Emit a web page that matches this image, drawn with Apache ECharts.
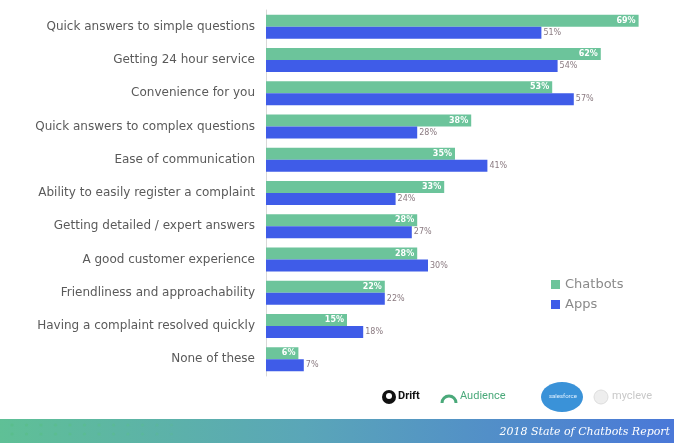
<!DOCTYPE html>
<html>
<head>
<meta charset="utf-8">
<script src="https://cdn.jsdelivr.net/npm/echarts@6/dist/echarts.min.js"></script>
<style>
html,body{margin:0;padding:0;background:#fff;}
#c{width:674px;height:443px;}
</style>
</head>
<body>
<div id="c"></div>
<script>
var categories = [
  'Quick answers to simple questions',
  'Getting 24 hour service',
  'Convenience for you',
  'Quick answers to complex questions',
  'Ease of communication',
  'Ability to easily register a complaint',
  'Getting detailed / expert answers',
  'A good customer experience',
  'Friendliness and approachability',
  'Having a complaint resolved quickly',
  'None of these'
];
var chatbots = [69, 62, 53, 38, 35, 33, 28, 28, 22, 15, 6];
var apps = [51, 54, 57, 28, 41, 24, 27, 30, 22, 18, 7];
var footerTitle = '2018 State of Chatbots Report';

var chart = echarts.init(document.getElementById('c'));

var dots = [];
for (var r = 0; r < 2; r++) {
  for (var i = 0; i < 12; i++) {
    dots.push({
      type: 'circle',
      shape: {cx: 12 + i * 14.5, cy: 425 + r * 9, r: 1.6},
      style: {fill: 'rgba(90,190,140,' + (0.9 - i * 0.06) + ')'}
    });
  }
}

chart.setOption({
  animation: false,
  textStyle: {fontFamily: '"DejaVu Sans", sans-serif'},
  grid: {left: 266, top: 10, width: 378, height: 366, containLabel: false},
  legend: {
    orient: 'vertical',
    left: 546, top: 273,
    itemWidth: 9, itemHeight: 9, itemGap: 7,
    icon: 'rect',
    textStyle: {color: '#8a8a8a', fontSize: 13, fontFamily: '"DejaVu Sans", sans-serif'},
    data: ['Chatbots', 'Apps']
  },
  xAxis: {
    type: 'value', min: 0, max: 70,
    show: false
  },
  yAxis: {
    type: 'category', inverse: true, data: categories,
    axisLine: {show: true, lineStyle: {color: '#d8d8d8', width: 1}},
    axisTick: {show: false},
    axisLabel: {color: '#5a5a5a', fontSize: 12, margin: 11, fontFamily: '"DejaVu Sans", sans-serif'}
  },
  series: [
    {
      name: 'Chatbots', type: 'bar', data: chatbots,
      barWidth: 12, barGap: '0%',
      itemStyle: {color: '#6cc49b'},
      label: {show: true, position: 'insideRight', formatter: '{c}%', color: '#fff', fontSize: 8, fontWeight: 'bold', distance: 3}
    },
    {
      name: 'Apps', type: 'bar', data: apps,
      barWidth: 12,
      itemStyle: {color: '#3f5ce8'},
      label: {show: true, position: 'right', formatter: '{c}%', color: '#8a7a80', fontSize: 8, distance: 2}
    }
  ],
  graphic: [
    {
      type: 'rect', left: 0, top: 419, shape: {width: 674, height: 24},
      style: {fill: new echarts.graphic.LinearGradient(0, 0, 1, 0, [
        {offset: 0, color: '#5fc096'},
        {offset: 0.45, color: '#5aa6b8'},
        {offset: 1, color: '#4a78d8'}
      ])}
    },
    {type: 'group', children: dots},
    {
      type: 'text', right: 4, top: 427,
      style: {text: footerTitle, fill: '#ffffff', font: 'italic 11px "DejaVu Serif", "Liberation Serif", serif'}
    },
    {type: 'circle', shape: {cx: 389, cy: 397, r: 7}, style: {fill: '#111'}},
    {type: 'circle', shape: {cx: 389, cy: 396, r: 3}, style: {fill: '#fff'}},
    {type: 'text', left: 398, top: 391, style: {text: 'Drift', fill: '#111', font: 'bold 11px Roboto, sans-serif'}},
    {type: 'arc', shape: {cx: 449, cy: 403, r: 7, startAngle: Math.PI, endAngle: 0, clockwise: true}, style: {stroke: '#4aa97a', lineWidth: 3, fill: null}},
    {type: 'text', left: 460, top: 391, style: {text: 'Audience', fill: '#4aa97a', font: '11px Roboto, sans-serif'}},
    {type: 'ellipse', shape: {cx: 562, cy: 397, rx: 21, ry: 15}, style: {fill: '#3a92d8'}},
    {type: 'text', left: 549, top: 393, style: {text: 'salesforce', fill: '#e0f0ff', font: '6px Roboto, sans-serif'}},
    {type: 'circle', shape: {cx: 601, cy: 397, r: 7}, style: {fill: '#eee', stroke: '#ddd'}},
    {type: 'text', left: 612, top: 391, style: {text: 'mycleve', fill: '#c8c8c8', font: '11px Roboto, sans-serif'}}
  ]
});
</script>
</body>
</html>
